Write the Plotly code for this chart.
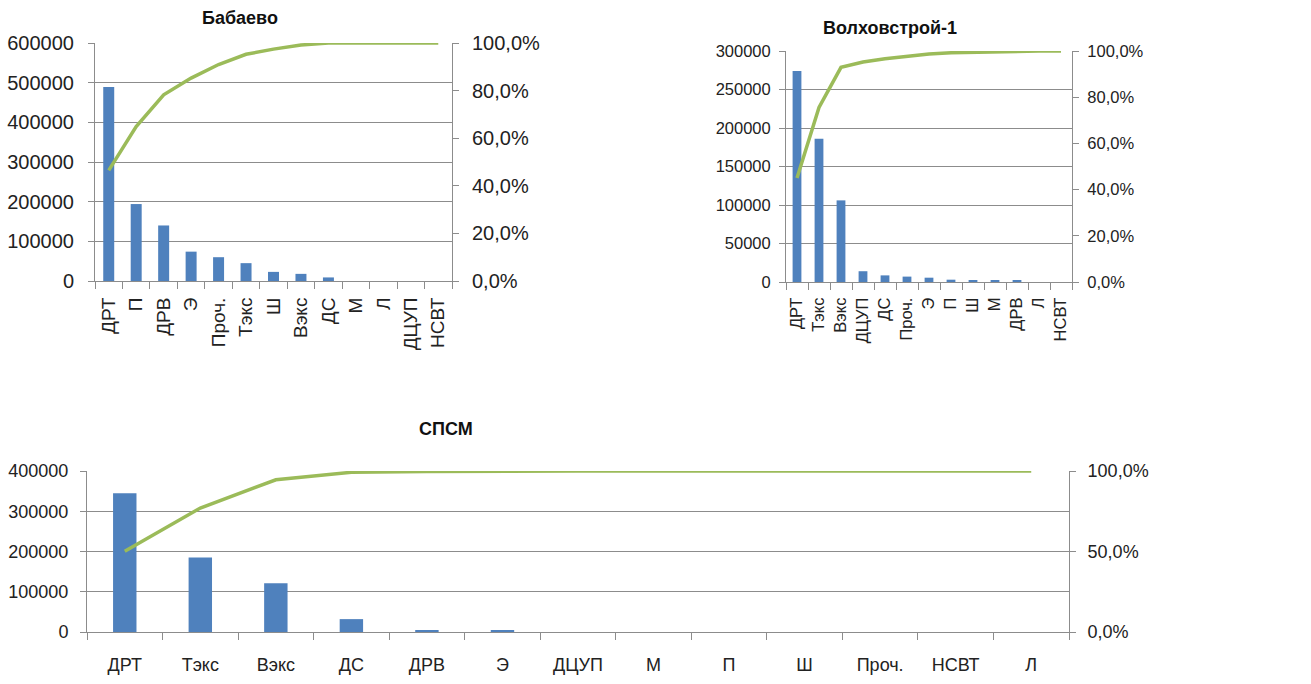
import plotly.graph_objects as go
import numpy as np

# Бабаево
bab_cats = ["ДРТ", "П", "ДРВ", "Э", "Проч.", "Тэкс", "Ш", "Вэкс", "ДС", "М", "Л", "ДЦУП", "НСВТ"]
bab_vals = [489000, 194000, 140000, 74000, 60000, 45000, 23000, 18000, 9000, 0, 0, 0, 0]

# Волховстрой-1
vol_cats = ["ДРТ", "Тэкс", "Вэкс", "ДЦУП", "ДС", "Проч.", "Э", "П", "Ш", "М", "ДРВ", "Л", "НСВТ"]
vol_vals = [274000, 186000, 106000, 14000, 8600, 7000, 5600, 3000, 1700, 1600, 1500, 0, 0]

# СПСМ
sps_cats = ["ДРТ", "Тэкс", "Вэкс", "ДС", "ДРВ", "Э", "ДЦУП", "М", "П", "Ш", "Проч.", "НСВТ", "Л"]
sps_vals = [345000, 185000, 121000, 32000, 3000, 2500, 0, 0, 0, 0, 0, 0, 0]

W, H = 1311, 684
BAR = "#4F81BD"
LINE = "#9BBB59"
GRID = "#8C8C8C"
FONT = "Liberation Sans, Arial, sans-serif"


def xdom(a, b):
    return [a / W, b / W]


def ydom(top, bottom):
    return [1 - bottom / H, 1 - top / H]


def cumulative_share(vals):
    v = np.asarray(vals, dtype=float)
    return np.cumsum(v) / v.sum()


panels = [
    dict(cats=bab_cats, vals=bab_vals, title="Бабаево", xd=xdom(95, 452), yd=ydom(43, 281),
         ymax=600000, dtick=100000, pdtick=0.2, width=0.4, fs=20, xfs=19, rot=True,
         lso=10, rso=9, tx=240, ty=18),
    dict(cats=vol_cats, vals=vol_vals, title="Волховстрой-1", xd=xdom(786, 1072), yd=ydom(51, 282),
         ymax=300000, dtick=50000, pdtick=0.2, width=0.4, fs=16.5, xfs=16.5, rot=True,
         lso=5, rso=5, tx=890, ty=28),
    dict(cats=sps_cats, vals=sps_vals, title="СПСМ", xd=xdom(87, 1069), yd=ydom(471, 632),
         ymax=400000, dtick=100000, pdtick=0.5, width=0.31, fs=18, xfs=18, rot=False,
         lso=8, rso=8, tx=446, ty=429),
]

fig = go.Figure()
layout = dict(
    width=W, height=H, margin=dict(l=0, r=0, t=0, b=0, autoexpand=False),
    paper_bgcolor="white", plot_bgcolor="white",
    showlegend=False, separators=", ",
    font=dict(family=FONT, color="#222222"),
    annotations=[],
)

for i, p in enumerate(panels):
    n = i + 1
    xa = "x" if n == 1 else f"x{n}"
    yl = f"y{2 * n - 1}" if n > 1 else "y"
    yr = f"y{2 * n}"
    xa_key = "xaxis" if n == 1 else f"xaxis{n}"
    yl_key = "yaxis" if yl == "y" else f"yaxis{2 * n - 1}"
    yr_key = f"yaxis{2 * n}"

    fig.add_trace(go.Bar(
        x=p["cats"], y=p["vals"], xaxis=xa, yaxis=yl, width=p["width"],
        marker=dict(color=BAR, line=dict(width=0)),
    ))
    fig.add_trace(go.Scatter(
        x=p["cats"], y=cumulative_share(p["vals"]), xaxis=xa, yaxis=yr,
        mode="lines", line=dict(color=LINE, width=3.5),
    ))

    layout[xa_key] = dict(
        domain=p["xd"], anchor=yl, type="category", automargin=False,
        categoryorder="array", categoryarray=p["cats"],
        showline=True, linecolor=GRID, linewidth=1,
        ticks="outside", tickson="boundaries", ticklen=7, tickcolor=GRID,
        tickangle=-90 if p["rot"] else 0,
        tickfont=dict(size=p["xfs"], family=FONT),
        showgrid=False, ticklabelstandoff=8 if p["rot"] else 16,
    )
    layout[yl_key] = dict(
        domain=p["yd"], anchor=xa, range=[0, p["ymax"]], dtick=p["dtick"],
        tickformat="d", showline=True, linecolor=GRID, linewidth=1, automargin=False,
        ticks="outside", ticklen=6, tickcolor=GRID,
        showgrid=True, gridcolor=GRID, gridwidth=1, zeroline=False,
        tickfont=dict(size=p["fs"], family=FONT), ticklabelstandoff=p["lso"],
    )
    layout[yr_key] = dict(
        domain=p["yd"], anchor=xa, overlaying=yl, side="right", automargin=False,
        range=[0, 1], dtick=p["pdtick"], tickformat=".1%",
        showline=True, linecolor=GRID, linewidth=1,
        ticks="outside", ticklen=6, tickcolor=GRID,
        showgrid=False, zeroline=False,
        tickfont=dict(size=p["fs"], family=FONT), ticklabelstandoff=p["rso"],
    )
    layout["annotations"].append(dict(
        text=f"<b>{p['title']}</b>", x=p["tx"] / W, y=1 - p["ty"] / H,
        xref="paper", yref="paper", showarrow=False,
        xanchor="center", yanchor="middle",
        font=dict(size=18, family=FONT, color="#111111"),
    ))

fig.update_layout(**layout)
fig.write_html("out.html", config={"displayModeBar": False})
